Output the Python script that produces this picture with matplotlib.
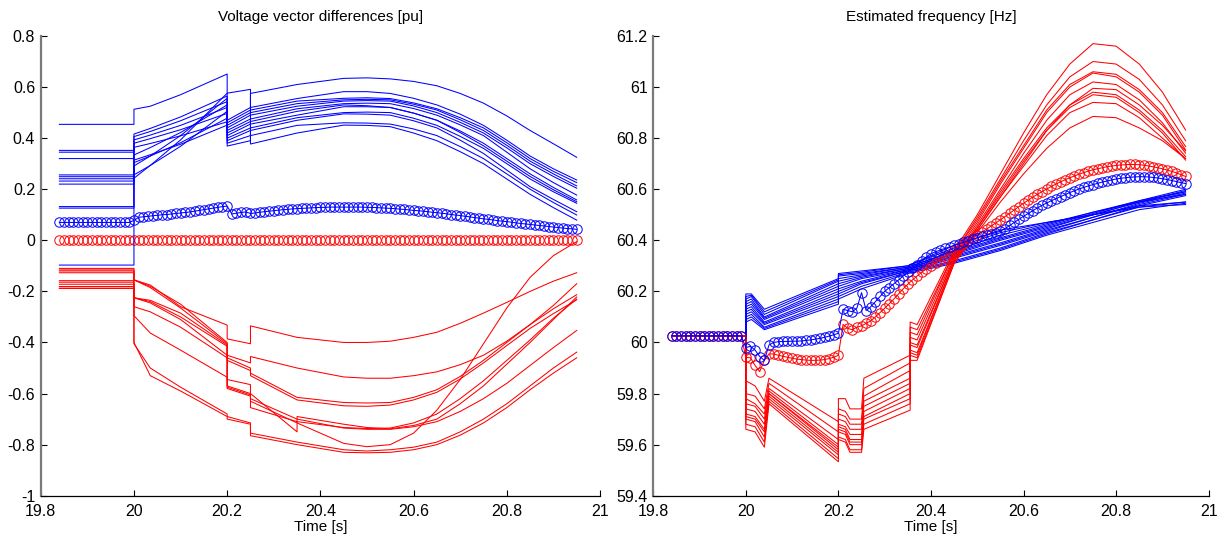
## Voltage vector differences and estimated frequency

import numpy as np
import matplotlib.pyplot as plt

plt.rcParams['font.family'] = ['Liberation Sans', 'DejaVu Sans']
plt.rcParams['axes.unicode_minus'] = False

# ---------------- left panel: voltage vector differences [pu] ----------------
t_left = [19.84, 20.0, 20.0, 20.035, 20.1, 20.2, 20.2, 20.25, 20.25, 20.35, 20.35,
          20.45, 20.5, 20.55, 20.6, 20.65, 20.7, 20.75, 20.8, 20.85, 20.9, 20.95]

volt_blue = [
    [0.454, 0.454, 0.513, 0.525, 0.570, 0.651, 0.369, 0.390, 0.575, 0.610, 0.610, 0.634, 0.636, 0.632, 0.622, 0.605, 0.575, 0.537, 0.487, 0.430, 0.378, 0.325],
    [0.352, 0.352, 0.416, 0.438, 0.483, 0.565, 0.470, 0.520, 0.520, 0.555, 0.555, 0.582, 0.582, 0.575, 0.556, 0.530, 0.494, 0.450, 0.392, 0.330, 0.280, 0.236],
    [0.132, 0.132, 0.291, 0.330, 0.410, 0.556, 0.460, 0.510, 0.510, 0.545, 0.545, 0.556, 0.558, 0.555, 0.538, 0.515, 0.480, 0.440, 0.382, 0.320, 0.270, 0.226],
    [0.345, 0.345, 0.406, 0.426, 0.468, 0.543, 0.450, 0.500, 0.500, 0.535, 0.535, 0.550, 0.552, 0.550, 0.533, 0.510, 0.472, 0.430, 0.372, 0.310, 0.260, 0.213],
    [0.249, 0.249, 0.334, 0.363, 0.422, 0.530, 0.440, 0.490, 0.490, 0.525, 0.525, 0.545, 0.547, 0.545, 0.526, 0.500, 0.462, 0.420, 0.362, 0.300, 0.250, 0.204],
    [0.320, 0.320, 0.393, 0.412, 0.450, 0.520, 0.430, 0.475, 0.475, 0.515, 0.515, 0.535, 0.537, 0.535, 0.516, 0.490, 0.452, 0.410, 0.345, 0.280, 0.226, 0.177],
    [0.126, 0.126, 0.256, 0.293, 0.368, 0.505, 0.420, 0.465, 0.465, 0.505, 0.505, 0.530, 0.527, 0.520, 0.498, 0.470, 0.428, 0.380, 0.320, 0.260, 0.207, 0.158],
    [0.256, 0.256, 0.380, 0.398, 0.433, 0.497, 0.410, 0.455, 0.455, 0.490, 0.490, 0.523, 0.523, 0.520, 0.498, 0.470, 0.422, 0.370, 0.310, 0.250, 0.198, 0.151],
    [0.220, 0.220, 0.304, 0.330, 0.382, 0.478, 0.400, 0.440, 0.440, 0.480, 0.480, 0.500, 0.502, 0.500, 0.478, 0.450, 0.407, 0.360, 0.300, 0.240, 0.190, 0.145],
    [0.241, 0.241, 0.364, 0.379, 0.409, 0.464, 0.390, 0.430, 0.430, 0.470, 0.470, 0.495, 0.494, 0.490, 0.468, 0.440, 0.392, 0.340, 0.275, 0.210, 0.160, 0.112],
    [0.232, 0.232, 0.314, 0.335, 0.376, 0.451, 0.380, 0.410, 0.410, 0.450, 0.450, 0.460, 0.459, 0.455, 0.436, 0.410, 0.367, 0.320, 0.260, 0.200, 0.148, 0.099],
    [-0.097, -0.097, 0.243, 0.293, 0.393, 0.576, 0.576, 0.591, 0.377, 0.420, 0.420, 0.451, 0.450, 0.445, 0.420, 0.390, 0.347, 0.300, 0.240, 0.180, 0.128, 0.079],
]

volt_red = [
    [-0.110, -0.110, -0.155, -0.175, -0.260, -0.332, -0.386, -0.405, -0.335, -0.380, -0.380, -0.400, -0.400, -0.395, -0.380, -0.360, -0.325, -0.285, -0.243, -0.200, -0.160, -0.127],
    [-0.116, -0.116, -0.155, -0.180, -0.250, -0.400, -0.450, -0.480, -0.455, -0.500, -0.500, -0.535, -0.540, -0.540, -0.530, -0.515, -0.487, -0.450, -0.395, -0.330, -0.255, -0.170],
    [-0.127, -0.127, -0.155, -0.185, -0.265, -0.405, -0.460, -0.500, -0.520, -0.615, -0.615, -0.635, -0.637, -0.635, -0.615, -0.585, -0.533, -0.470, -0.400, -0.330, -0.268, -0.213],
    [-0.158, -0.158, -0.225, -0.235, -0.285, -0.410, -0.470, -0.510, -0.530, -0.625, -0.625, -0.648, -0.650, -0.645, -0.625, -0.595, -0.543, -0.480, -0.412, -0.345, -0.287, -0.233],
    [-0.164, -0.164, -0.225, -0.240, -0.300, -0.415, -0.575, -0.605, -0.655, -0.710, -0.710, -0.733, -0.737, -0.735, -0.715, -0.680, -0.620, -0.550, -0.470, -0.390, -0.305, -0.230],
    [-0.172, -0.172, -0.225, -0.245, -0.310, -0.450, -0.570, -0.600, -0.600, -0.750, -0.690, -0.720, -0.733, -0.738, -0.725, -0.700, -0.640, -0.570, -0.485, -0.400, -0.310, -0.222],
    [-0.181, -0.181, -0.260, -0.280, -0.340, -0.460, -0.580, -0.610, -0.630, -0.715, -0.715, -0.795, -0.808, -0.800, -0.755, -0.665, -0.545, -0.405, -0.265, -0.145, -0.060, -0.005],
    [-0.188, -0.188, -0.295, -0.363, -0.430, -0.536, -0.545, -0.565, -0.620, -0.700, -0.700, -0.735, -0.740, -0.740, -0.730, -0.710, -0.670, -0.620, -0.560, -0.490, -0.420, -0.353],
    [-0.188, -0.188, -0.400, -0.530, -0.590, -0.690, -0.700, -0.720, -0.755, -0.790, -0.790, -0.820, -0.825, -0.820, -0.810, -0.790, -0.750, -0.700, -0.640, -0.570, -0.500, -0.438],
    [-0.120, -0.120, -0.405, -0.500, -0.575, -0.680, -0.690, -0.715, -0.765, -0.800, -0.800, -0.830, -0.832, -0.830, -0.820, -0.800, -0.763, -0.715, -0.655, -0.585, -0.520, -0.460],
]

# circle-marked series, one sample every 0.01 s from 19.84 to 20.95
t_marks = np.round(np.arange(19.84, 20.955, 0.01), 2)

volt_blue_mark = [0.070] * 16 + [
    0.078, 0.090, 0.092, 0.094, 0.096, 0.098, 0.100, 0.101, 0.103, 0.105,
    0.107, 0.109, 0.111, 0.114, 0.117, 0.120, 0.123, 0.126, 0.129, 0.132,
    0.134, 0.103, 0.106, 0.109, 0.111, 0.105, 0.107, 0.110, 0.112, 0.114,
    0.116, 0.118, 0.120, 0.121, 0.123, 0.124, 0.125, 0.126, 0.127, 0.128,
    0.129, 0.129, 0.130, 0.130, 0.130, 0.130, 0.130, 0.130, 0.130, 0.130,
    0.129, 0.129, 0.128, 0.127, 0.126, 0.125, 0.124, 0.122, 0.121, 0.119,
    0.117, 0.116, 0.114, 0.112, 0.110, 0.108, 0.106, 0.104, 0.101, 0.099,
    0.097, 0.094, 0.092, 0.089, 0.087, 0.084, 0.082, 0.080, 0.077, 0.075,
    0.073, 0.071, 0.068, 0.066, 0.064, 0.062, 0.060, 0.058, 0.056, 0.054,
    0.052, 0.050, 0.048, 0.046, 0.045, 0.043]
volt_red_mark = [0.0] * 112

# ---------------- right panel: estimated frequency [Hz] ----------------
t_freq_blue = [19.84, 20.0, 20.0, 20.012, 20.04, 20.2, 20.2, 20.25, 20.35,
               20.45, 20.55, 20.65, 20.75, 20.85, 20.95]

freq_blue = [
    [60.026, 60.026, 60.19, 60.19, 60.13, 60.25, 60.27, 60.28, 60.30, 60.38, 60.44, 60.47, 60.50, 60.53, 60.54],
    [60.026, 60.026, 60.18, 60.185, 60.12, 60.245, 60.265, 60.275, 60.30, 60.37, 60.43, 60.47, 60.50, 60.535, 60.55],
    [60.026, 60.026, 60.17, 60.18, 60.11, 60.24, 60.26, 60.27, 60.295, 60.36, 60.42, 60.465, 60.51, 60.55, 60.58],
    [60.026, 60.026, 60.16, 60.17, 60.10, 60.23, 60.25, 60.265, 60.295, 60.355, 60.41, 60.46, 60.51, 60.555, 60.59],
    [60.026, 60.026, 60.15, 60.16, 60.095, 60.22, 60.24, 60.26, 60.29, 60.35, 60.405, 60.455, 60.505, 60.555, 60.60],
    [60.026, 60.026, 60.14, 60.15, 60.09, 60.21, 60.23, 60.255, 60.29, 60.345, 60.40, 60.45, 60.50, 60.55, 60.595],
    [60.026, 60.026, 60.13, 60.14, 60.08, 60.20, 60.22, 60.25, 60.285, 60.34, 60.39, 60.445, 60.50, 60.55, 60.59],
    [60.026, 60.026, 60.12, 60.13, 60.075, 60.19, 60.21, 60.24, 60.285, 60.335, 60.385, 60.44, 60.49, 60.545, 60.585],
    [60.026, 60.026, 60.11, 60.12, 60.07, 60.18, 60.20, 60.235, 60.28, 60.33, 60.38, 60.435, 60.49, 60.54, 60.58],
    [60.026, 60.026, 60.10, 60.11, 60.06, 60.17, 60.19, 60.23, 60.28, 60.32, 60.37, 60.43, 60.48, 60.535, 60.575],
    [60.026, 60.026, 60.09, 60.10, 60.055, 60.16, 60.18, 60.22, 60.275, 60.315, 60.365, 60.425, 60.48, 60.53, 60.55],
    [60.026, 60.026, 60.08, 60.09, 60.05, 60.15, 60.17, 60.21, 60.27, 60.31, 60.36, 60.42, 60.47, 60.52, 60.545],
]

t_freq_red = [19.84, 20.0, 20.0, 20.02, 20.04, 20.05, 20.2, 20.2, 20.215, 20.225, 20.25, 20.255,
              20.355, 20.355, 20.37, 20.45, 20.5, 20.55, 20.6, 20.65, 20.7, 20.75, 20.8,
              20.85, 20.9, 20.95]

freq_red = [
    [60.026, 60.026, 59.85, 59.83, 59.77, 59.86, 59.69, 59.78, 59.78, 59.74, 59.74, 59.86, 59.95, 60.08, 60.07, 60.36, 60.50, 60.66, 60.82, 60.97, 61.09, 61.17, 61.16, 61.09, 60.98, 60.832],
    [60.026, 60.026, 59.80, 59.79, 59.74, 59.84, 59.65, 59.74, 59.73, 59.70, 59.70, 59.82, 59.92, 60.06, 60.05, 60.35, 60.49, 60.64, 60.79, 60.93, 61.04, 61.10, 61.09, 61.03, 60.93, 60.79],
    [60.026, 60.026, 59.78, 59.76, 59.72, 59.82, 59.62, 59.72, 59.71, 59.68, 59.68, 59.79, 59.89, 60.04, 60.03, 60.35, 60.48, 60.63, 60.77, 60.91, 61.01, 61.06, 61.05, 60.99, 60.90, 60.767],
    [60.026, 60.026, 59.76, 59.75, 59.70, 59.81, 59.60, 59.70, 59.69, 59.66, 59.66, 59.77, 59.86, 60.02, 60.01, 60.34, 60.47, 60.62, 60.76, 60.90, 61.00, 61.055, 61.04, 60.98, 60.89, 60.754],
    [60.026, 60.026, 59.74, 59.73, 59.68, 59.80, 59.59, 59.68, 59.67, 59.64, 59.64, 59.75, 59.84, 60.00, 59.99, 60.33, 60.46, 60.60, 60.74, 60.87, 60.97, 61.02, 61.01, 60.95, 60.86, 60.741],
    [60.026, 60.026, 59.72, 59.71, 59.66, 59.80, 59.58, 59.67, 59.66, 59.62, 59.62, 59.73, 59.82, 59.99, 59.98, 60.33, 60.45, 60.59, 60.72, 60.84, 60.93, 60.98, 60.97, 60.91, 60.83, 60.728],
    [60.026, 60.026, 59.71, 59.70, 59.65, 59.79, 59.57, 59.66, 59.65, 59.61, 59.61, 59.71, 59.80, 59.97, 59.96, 60.32, 60.45, 60.58, 60.71, 60.83, 60.92, 60.97, 60.96, 60.90, 60.82, 60.714],
    [60.026, 60.026, 59.70, 59.69, 59.63, 59.78, 59.56, 59.65, 59.64, 59.60, 59.60, 59.70, 59.78, 59.96, 59.95, 60.32, 60.44, 60.57, 60.69, 60.81, 60.90, 60.94, 60.935, 60.88, 60.80, 60.72],
    [60.026, 60.026, 59.68, 59.67, 59.61, 59.77, 59.545, 59.63, 59.62, 59.58, 59.58, 59.68, 59.76, 59.95, 59.94, 60.31, 60.43, 60.55, 60.66, 60.76, 60.84, 60.885, 60.88, 60.84, 60.79, 60.72],
    [60.026, 60.026, 59.66, 59.65, 59.59, 59.76, 59.533, 59.62, 59.61, 59.57, 59.57, 59.66, 59.735, 59.93, 59.93, 60.31, 60.44, 60.57, 60.70, 60.83, 60.93, 60.995, 60.99, 60.93, 60.85, 60.75],
]

freq_blue_mark = [60.026] * 16 + [
    59.980, 59.985, 59.970, 59.945, 59.930, 59.990, 60.000, 60.003, 60.004, 60.004,
    60.005, 60.005, 60.006, 60.008, 60.010, 60.013, 60.016, 60.020, 60.025, 60.030,
    60.036, 60.130, 60.125, 60.120, 60.135, 60.195, 60.125, 60.140, 60.160, 60.180,
    60.200, 60.215, 60.230, 60.245, 60.260, 60.275, 60.290, 60.305, 60.320, 60.335,
    60.348, 60.355, 60.362, 60.368, 60.374, 60.380, 60.386, 60.392, 60.398, 60.404,
    60.410, 60.415, 60.420, 60.425, 60.430, 60.436, 60.446, 60.458, 60.470, 60.482,
    60.494, 60.505, 60.516, 60.527, 60.537, 60.546, 60.555, 60.563, 60.571, 60.579,
    60.587, 60.594, 60.601, 60.607, 60.613, 60.618, 60.623, 60.628, 60.632, 60.636,
    60.640, 60.643, 60.645, 60.647, 60.648, 60.649, 60.649, 60.648, 60.646, 60.644,
    60.641, 60.638, 60.634, 60.630, 60.626, 60.622]

freq_red_mark = [60.026] * 16 + [
    59.942, 59.940, 59.910, 59.886, 59.930, 59.955, 59.955, 59.950, 59.946, 59.942,
    59.938, 59.935, 59.933, 59.931, 59.930, 59.930, 59.931, 59.933, 59.937, 59.942,
    59.950, 60.071, 60.055, 60.050, 60.060, 60.065, 60.075, 60.085, 60.100, 60.117,
    60.134, 60.152, 60.170, 60.190, 60.210, 60.228, 60.245, 60.260, 60.275, 60.288,
    60.300, 60.312, 60.324, 60.336, 60.348, 60.360, 60.372, 60.384, 60.396, 60.408,
    60.420, 60.432, 60.444, 60.456, 60.468, 60.480, 60.493, 60.506, 60.519, 60.532,
    60.545, 60.557, 60.569, 60.580, 60.591, 60.601, 60.611, 60.620, 60.629, 60.637,
    60.645, 60.652, 60.659, 60.665, 60.671, 60.676, 60.680, 60.684, 60.688, 60.691,
    60.693, 60.695, 60.696, 60.697, 60.697, 60.696, 60.694, 60.691, 60.688, 60.684,
    60.680, 60.675, 60.670, 60.664, 60.657, 60.650]

x_ticks = [19.8, 20.0, 20.2, 20.4, 20.6, 20.8, 21.0]
x_tick_labels = ['19.8', '20', '20.2', '20.4', '20.6', '20.8', '21']
volt_ticks = [-1, -0.8, -0.6, -0.4, -0.2, 0, 0.2, 0.4, 0.6, 0.8]
freq_ticks = [59.4, 59.6, 59.8, 60, 60.2, 60.4, 60.6, 60.8, 61, 61.2]

BLUE = (0, 0, 1)
RED = (1, 0, 0)
LW = 0.75
MS = 6.8


def style_axes(ax, yticks, title):
    for side in ['top', 'right']:
        ax.spines[side].set_visible(False)
    ax.spines['left'].set_color('#7a7a7a')
    ax.spines['left'].set_linewidth(1.6)
    ax.spines['bottom'].set_color('black')
    ax.spines['bottom'].set_linewidth(0.9)
    ax.set_xlim(19.8, 21)
    ax.set_ylim(yticks[0], yticks[-1])
    ax.set_xticks(x_ticks)
    ax.set_xticklabels(x_tick_labels)
    ax.set_yticks(yticks)
    ax.set_yticklabels(['%g' % v for v in yticks])
    ax.tick_params(direction='in', length=4, width=0.8, labelsize=11.5)
    ax.tick_params(axis='x', pad=6)
    ax.tick_params(axis='y', pad=4)
    ax.set_title(title, fontsize=11, pad=11)
    ax.set_xlabel('Time [s]', fontsize=11, labelpad=1)


fig = plt.figure(figsize=(12.27, 5.41), dpi=100)
ax1 = fig.add_axes([0.0332, 0.0837, 0.4558, 0.8498])
ax2 = fig.add_axes([0.5324, 0.0837, 0.4527, 0.8498])

# left panel
ax1.plot(t_marks, volt_red_mark, 'o', mfc='none', mec=RED, ms=MS, mew=0.7)
ax1.plot(t_marks, volt_blue_mark, 'o-', color=BLUE, mfc='none', mec=BLUE, ms=MS, mew=0.7, lw=LW)
for y in volt_blue:
    ax1.plot(t_left, y, color=BLUE, lw=LW)
for y in volt_red:
    ax1.plot(t_left, y, color=RED, lw=LW)
style_axes(ax1, volt_ticks, 'Voltage vector differences [pu]')

# right panel
for y in freq_blue:
    ax2.plot(t_freq_blue, y, color=BLUE, lw=LW)
for y in freq_red:
    ax2.plot(t_freq_red, y, color=RED, lw=LW)
ax2.plot(t_marks, freq_red_mark, 'o-', color=RED, mfc='none', mec=RED, ms=MS, mew=0.7, lw=LW)
ax2.plot(t_marks, freq_blue_mark, 'o-', color=BLUE, mfc='none', mec=BLUE, ms=MS, mew=0.7, lw=LW)
style_axes(ax2, freq_ticks, 'Estimated frequency [Hz]')

fig.savefig('out.png', dpi=100)
